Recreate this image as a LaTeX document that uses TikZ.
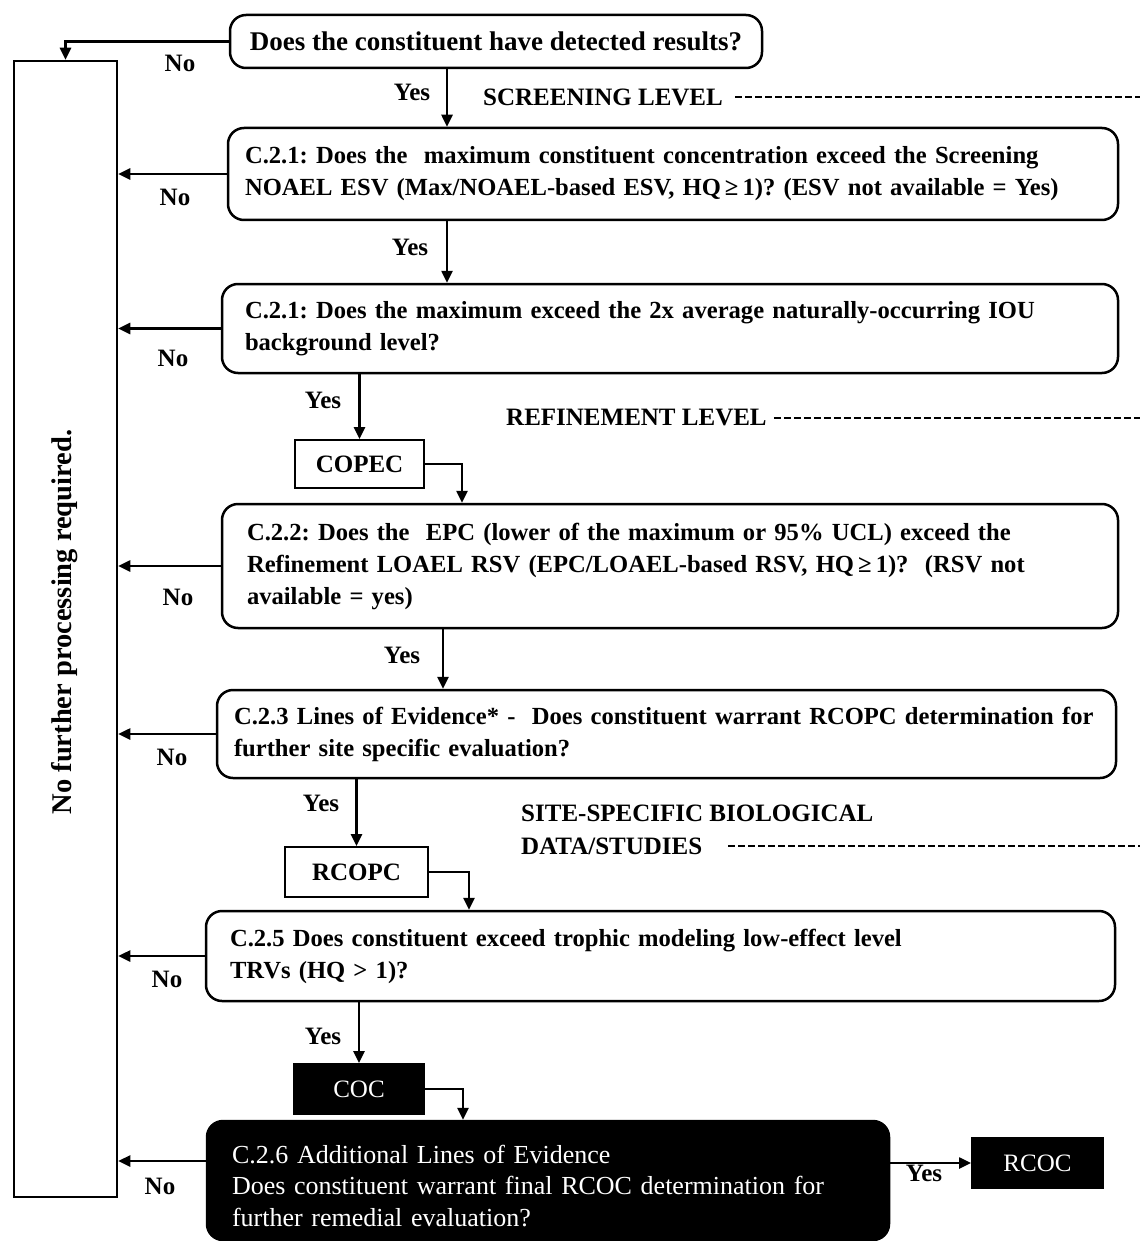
\documentclass[tikz,border=0pt]{standalone}
\usepackage{fontspec}
\setmainfont{Liberation Serif}
\usetikzlibrary{arrows.meta}
\tikzset{
  q/.style={draw, line width=2.5pt, rounded corners=16pt, fill=white, align=left, inner ysep=0pt,
    font=\fontsize{24.6}{32}\selectfont\bfseries},
  qblack/.style={draw, line width=2.5pt, rounded corners=16pt, fill=black, text=white, align=left, inner ysep=0pt,
    font=\fontsize{26}{31.5}\selectfont},
  tag/.style={draw, line width=2pt, fill=white, font=\fontsize{25}{28}\selectfont\bfseries},
  tagblack/.style={draw, line width=2pt, fill=black, text=white, font=\fontsize{25}{28}\selectfont},
  lbl/.style={font=\fontsize{25}{33}\selectfont\bfseries, inner sep=0pt},
  arr/.style={line width=2.5pt, -{Triangle[length=12pt,width=11pt]}},
  lvl/.style={line width=2.2pt, dash pattern=on 7pt off 3pt}
}
\begin{document}
\frenchspacing
\begin{tikzpicture}[x=1pt,y=-1pt]
\useasboundingbox (0,0) rectangle (1140,1241);
\begin{scope}
\clip (0,0) rectangle (1140,1241);
% left collector box
\node[draw, line width=2.5pt, minimum width=103pt, minimum height=1136pt, inner sep=0pt] (nf) at (65.5,629) {};
\node[lbl, rotate=90, font=\fontsize{28.5}{33}\selectfont\bfseries] (nftxt) at (65,622) {No further processing required.};

% question boxes
\node[q, minimum width=532pt, minimum height=53pt, align=center, inner xsep=0pt,
  font=\fontsize{27}{32}\selectfont\bfseries] (b1) at (496,41.5)
  {Does the constituent have detected results?};
\node[q, text width=856pt, inner xsep=17pt, minimum height=92pt] (b2) at (673,174)
  {C.2.1: Does the\ \ maximum constituent concentration exceed the Screening\\
   NOAEL ESV (Max/NOAEL-based ESV, HQ\,≥\,1)? (ESV not available = Yes)};
\node[q, text width=850pt, inner xsep=23pt, minimum height=89pt] (b3) at (670,328.5)
  {C.2.1: Does the maximum exceed the 2x average naturally-occurring IOU\\
   background level?};
\node[q, text width=846pt, inner xsep=25pt, minimum height=124pt] (b4) at (670,566)
  {C.2.2: Does the\ \ EPC (lower of the maximum or 95\% UCL) exceed the\\
   Refinement LOAEL RSV (EPC/LOAEL-based RSV, HQ\,≥\,1)?\ \ (RSV not\\
   available = yes)};
\node[q, text width=865pt, inner xsep=17pt, minimum height=88pt] (b5) at (666.5,734)
  {C.2.3 Lines of Evidence* -\ \ Does constituent warrant RCOPC determination for\\
   further site specific evaluation?};
\node[q, text width=861pt, inner xsep=24pt, minimum height=90pt] (b6) at (660.5,956)
  {C.2.5 Does constituent exceed trophic modeling low-effect level\\
   TRVs (HQ > 1)?};
\node[qblack, text width=632pt, inner xsep=25pt, minimum height=119pt] (b7) at (548,1180.5)
  {\rule{0pt}{29pt}C.2.6 Additional Lines of Evidence\\
   Does constituent warrant final RCOC determination for\\
   further remedial evaluation?};

% tag boxes
\node[tag, minimum width=129pt, minimum height=48pt] (copec) at (359.5,464) {COPEC};
\node[tag, minimum width=143pt, minimum height=50pt] (rcopc) at (356.5,872) {RCOPC};
\node[tagblack, minimum width=130pt, minimum height=50pt] (coc) at (359,1089) {COC};
\node[tagblack, minimum width=131pt, minimum height=50pt] (rcoc) at (1037.5,1163) {RCOC};

% level labels
\node[lbl, anchor=west] (lv1) at (483,97) {SCREENING LEVEL};
\node[lbl, anchor=west] (lv2) at (506,418) {REFINEMENT LEVEL};
\node[lbl, anchor=west] (lv3a) at (521,813) {SITE-SPECIFIC BIOLOGICAL};
\node[lbl, anchor=west] (lv3) at (521,846) {DATA/STUDIES};
\coordinate (e1) at (1140,97);
\coordinate (e2) at (1140,418);
\coordinate (e3) at (1140,846);
\draw[lvl] ([xshift=12pt]lv1.east) -- (e1);
\draw[lvl] ([xshift=7pt]lv2.east) -- (e2);
\draw[lvl] ([xshift=26pt]lv3.east) -- (e3);

% x positions of vertical connectors
\coordinate (x447) at (447,0);
\coordinate (x462) at (462,0);
\coordinate (x443) at (443,0);
\coordinate (x469) at (469,0);
\coordinate (x463) at (463,0);
\coordinate (y7) at (0,1161);

% Yes connectors
\draw[arr] (b1.south -| x447) -- (b2.north -| x447);
\draw[arr] (b2.south -| x447) -- (b3.north -| x447);
\draw[arr] (b3.south -| copec) -- (copec.north);
\draw[arr] (copec.east) -| (b4.north -| x462);
\draw[arr] (b4.south -| x443) -- (b5.north -| x443);
\draw[arr] (b5.south -| rcopc) -- (rcopc.north);
\draw[arr] (rcopc.east) -| (b6.north -| x469);
\draw[arr] (b6.south -| coc) -- (coc.north);
\draw[arr] (coc.east) -| (b7.north -| x463);
\draw[arr] (b7.east |- rcoc) -- (rcoc.west);

% No connectors
\draw[arr] (b1.west) -| (nf.north);
\draw[arr] (b2.west) -- (b2.west -| nf.east);
\draw[arr] (b3.west) -- (b3.west -| nf.east);
\draw[arr] (b4.west) -- (b4.west -| nf.east);
\draw[arr] (b5.west) -- (b5.west -| nf.east);
\draw[arr] (b6.west) -- (b6.west -| nf.east);
\draw[arr] (b7.west |- y7) -- (nf.east |- y7);

% Yes / No labels
\node[lbl] (n1) at (180,63) {No};
\node[lbl] (y1) at (412,92) {Yes};
\node[lbl] (n2) at (175,197) {No};
\node[lbl] (y2) at (410,247) {Yes};
\node[lbl] (n3) at (173,358) {No};
\node[lbl] (y3) at (323,400) {Yes};
\node[lbl] (n4) at (178,597) {No};
\node[lbl] (y4) at (402,655) {Yes};
\node[lbl] (n5) at (172,757) {No};
\node[lbl] (y5) at (321,803) {Yes};
\node[lbl] (n6) at (167,979) {No};
\node[lbl] (y6) at (323,1036) {Yes};
\node[lbl] (n7) at (160,1186) {No};
\node[lbl] (y7l) at (924,1173) {Yes};
\end{scope}
\end{tikzpicture}
\end{document}
